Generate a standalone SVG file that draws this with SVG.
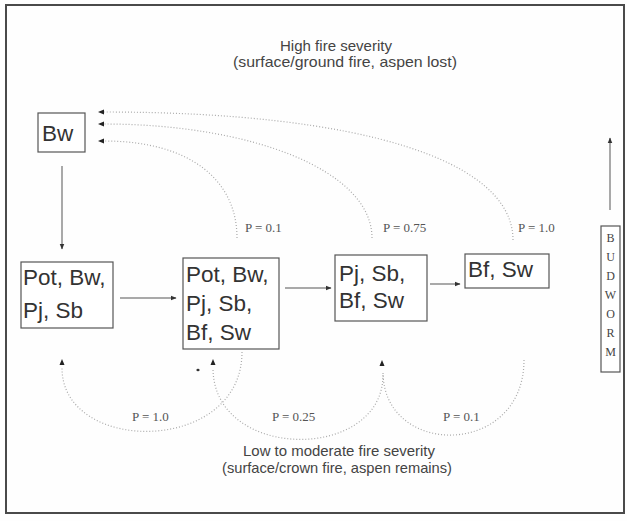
<svg xmlns="http://www.w3.org/2000/svg" width="627" height="521" viewBox="0 0 627 521">
<style>
.bg{fill:#fefefe}
.frame{fill:none;stroke:#4a4a4a;stroke-width:2}
.box{fill:#fff;stroke:#555;stroke-width:1.2}
.lbl{font-family:"Liberation Sans",Arial,sans-serif;font-size:22.5px;fill:#333}
.ttl{font-family:"Liberation Sans",Arial,sans-serif;font-size:15px;fill:#444;text-anchor:middle}
.p{font-family:"Liberation Serif","Times New Roman",serif;font-size:13px;fill:#555}
.bud{font-family:"Liberation Serif","Times New Roman",serif;font-size:12px;fill:#444;text-anchor:middle}
.solid{fill:none;stroke:#555;stroke-width:1}
.dot{fill:none;stroke:#aaa;stroke-width:1.2;stroke-dasharray:1 2}
.head{fill:#222}
</style>
<defs>
<marker id="ah" viewBox="0 0 10 10" refX="9" refY="5" markerWidth="6" markerHeight="6" orient="auto" markerUnits="userSpaceOnUse">
<path d="M0,1 L10,5 L0,9 z" fill="#333"/>
</marker>
</defs>
<rect class="bg" x="0" y="0" width="627" height="521"/>
<rect class="frame" x="6" y="5" width="618" height="508"/>

<g id="title-top">
<text class="ttl" x="336" y="51" textLength="112" lengthAdjust="spacingAndGlyphs">High fire severity</text>
<text class="ttl" x="345" y="67" textLength="224" lengthAdjust="spacingAndGlyphs">(surface/ground fire, aspen lost)</text>
</g>
<g id="title-bottom">
<text class="ttl" x="339" y="456" textLength="192" lengthAdjust="spacingAndGlyphs">Low to moderate fire severity</text>
<text class="ttl" x="337" y="473" textLength="230" lengthAdjust="spacingAndGlyphs">(surface/crown fire, aspen remains)</text>
</g>

<g id="node-bw">
<rect class="box" x="38" y="113" width="47" height="39"/>
<text class="lbl" x="42" y="141">Bw</text>
</g>
<g id="node-1">
<rect class="box" x="21" y="262" width="92" height="66"/>
<text class="lbl" x="23" y="285">Pot, Bw,</text>
<text class="lbl" x="23" y="318">Pj, Sb</text>
</g>
<g id="node-2">
<rect class="box" x="183" y="258" width="96" height="91"/>
<text class="lbl" x="186" y="282">Pot, Bw,</text>
<text class="lbl" x="186" y="311">Pj, Sb,</text>
<text class="lbl" x="186" y="340">Bf, Sw</text>
</g>
<g id="node-3">
<rect class="box" x="335" y="255" width="92" height="66"/>
<text class="lbl" x="339" y="281">Pj, Sb,</text>
<text class="lbl" x="339" y="308">Bf, Sw</text>
</g>
<g id="node-4">
<rect class="box" x="465" y="254" width="84" height="34"/>
<text class="lbl" x="468" y="277">Bf, Sw</text>
</g>
<g id="node-budworm">
<rect class="box" x="601" y="226" width="19" height="146"/>
<text class="bud" x="610.5" y="242">B</text>
<text class="bud" x="610.5" y="261">U</text>
<text class="bud" x="610.5" y="280">D</text>
<text class="bud" x="610.5" y="299">W</text>
<text class="bud" x="610.5" y="318">O</text>
<text class="bud" x="610.5" y="337">R</text>
<text class="bud" x="610.5" y="356">M</text>
</g>

<g id="connectors">
<line class="solid" x1="62" y1="166" x2="62" y2="249" marker-end="url(#ah)"/>
<line class="solid" x1="120" y1="298" x2="176" y2="298" marker-end="url(#ah)"/>
<line class="solid" x1="285" y1="288" x2="331" y2="288" marker-end="url(#ah)"/>
<line class="solid" x1="430" y1="284" x2="460" y2="284" marker-end="url(#ah)"/>
<line class="solid" x1="610" y1="210" x2="610" y2="138" marker-end="url(#ah)"/>

<path class="dot" d="M237,238 C237,180 190,141 104,141"/>
<path class="dot" d="M372,238 C372,170 250,124 104,124"/>
<path class="dot" d="M513,240 C513,160 360,112 104,112"/>
<path class="head" d="M98,141 L104,138.5 L104,143.5 z"/>
<path class="head" d="M98,124 L104,121.5 L104,126.5 z"/>
<path class="head" d="M98,112 L104,109.5 L104,114.5 z"/>

<path class="dot" d="M242,352 C242,455 62,455 62,368"/>
<path class="dot" d="M383,375 C383,462 213,462 213,368"/>
<path class="dot" d="M524,360 C524,458 383,458 383,372"/>
<path class="head" d="M62,359 L59.5,365 L64.5,365 z"/>
<path class="head" d="M213,359 L210.5,365 L215.5,365 z"/>
<path class="head" d="M382,360 L379.5,366 L384.5,366 z"/>
<ellipse cx="198" cy="370" rx="1.6" ry="1.2" fill="#333"/>

<text class="p" x="245" y="232">P = 0.1</text>
<text class="p" x="383" y="232">P = 0.75</text>
<text class="p" x="518" y="232">P = 1.0</text>
<text class="p" x="132" y="421">P = 1.0</text>
<text class="p" x="272" y="421">P = 0.25</text>
<text class="p" x="443" y="421">P = 0.1</text>
</g>
</svg>
